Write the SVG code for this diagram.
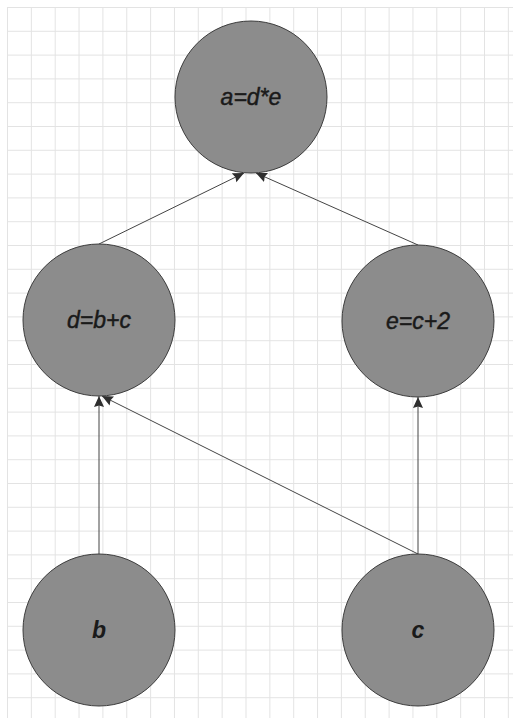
<svg xmlns="http://www.w3.org/2000/svg" width="513" height="718" viewBox="0 0 513 718">
  <defs>
    <pattern id="grid" patternUnits="userSpaceOnUse" x="7" y="7" width="23.85" height="23.8">
      <path d="M0,0.5 H23.85 M0.5,0 V23.8" fill="none" stroke="#e3e3e3" stroke-width="1"/>
    </pattern>
    <marker id="arrow" markerUnits="userSpaceOnUse" markerWidth="12" markerHeight="11" refX="11" refY="5.5" orient="auto">
      <path d="M0,0.5 L11,5.5 L0,10.5 L1.5,5.5 Z" fill="#2e2e2e"/>
    </marker>
    <style>
      .node circle { fill: #8c8c8c; stroke: #3c3c3c; stroke-width: 1; }
      .node text { font-family: "Liberation Sans", Arial, sans-serif; font-size: 23px; font-style: italic; fill: #1a1a1a; stroke: #1a1a1a; stroke-width: 0.45; text-anchor: middle; }
      .node text.bold { font-weight: bold; stroke-width: 0; }
      .edges line { stroke: #444444; stroke-width: 1; fill: none; marker-end: url(#arrow); }
    </style>
  </defs>
  <rect x="0" y="0" width="513" height="718" fill="#ffffff"/>
  <rect x="7" y="7" width="506" height="711" fill="url(#grid)"/>

  <g id="connectors" class="edges">
    <line x1="99" y1="244" x2="244" y2="173"/>
    <line x1="418" y1="245" x2="256" y2="173"/>
    <line x1="99" y1="554" x2="99" y2="396"/>
    <line x1="418" y1="554" x2="102" y2="396"/>
    <line x1="418" y1="554" x2="418" y2="397"/>
  </g>

  <g id="node-a" class="node">
    <circle cx="251" cy="97" r="76"/>
    <text x="251" y="105">a=d*e</text>
  </g>
  <g id="node-d" class="node">
    <circle cx="99" cy="320" r="76"/>
    <text x="99" y="328">d=b+c</text>
  </g>
  <g id="node-e" class="node">
    <circle cx="418" cy="321" r="76"/>
    <text x="418" y="329">e=c+2</text>
  </g>
  <g id="node-b" class="node">
    <circle cx="99" cy="630" r="76"/>
    <text class="bold" x="99" y="638">b</text>
  </g>
  <g id="node-c" class="node">
    <circle cx="418" cy="630" r="76"/>
    <text class="bold" x="418" y="638">c</text>
  </g>
</svg>
